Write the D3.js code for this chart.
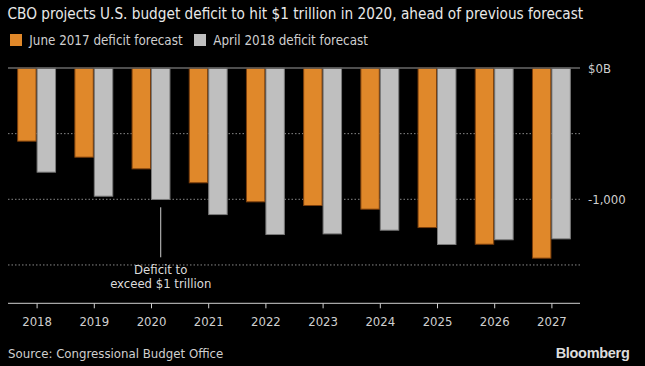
<!DOCTYPE html>
<html><head><meta charset="utf-8">
<script src="https://cdn.jsdelivr.net/npm/d3@7"></script>
<style>body{margin:0;background:#000}svg{display:block}</style>
</head><body><svg id="c" width="645" height="366"></svg>
<script>
const years = ["2018","2019","2020","2021","2022","2023","2024","2025","2026","2027"];
const june2017 = [-561,-683,-772,-878,-1023,-1051,-1079,-1219,-1346,-1452];
const april2018 = [-797,-980,-1005,-1120,-1272,-1267,-1239,-1348,-1312,-1305];
const seriesNames = ["June 2017 deficit forecast","April 2018 deficit forecast"];
const seriesColors = ["#e0882a","#bfbfbf"];
const seriesStrokes = ["#7a3e0c","#7a7a7a"];
const yTicks = [0,-500,-1000,-1500];
const yTickLabels = ["$0B","","-1,000",""];
const title = "CBO projects U.S. budget deficit to hit $1 trillion in 2020, ahead of previous forecast";
const source = "Source: Congressional Budget Office";
const annotation = ["Deficit to","exceed $1 trillion"];
const annotationYear = "2020";

const FONT = "'DejaVu Sans Condensed','DejaVu Sans',sans-serif";
const svg = d3.select("#c");
svg.append("rect").attr("width",645).attr("height",366).attr("fill","#000");

const L = 8, R = 580, Y0 = 68, YB = 303.3;
const x0 = d3.scaleBand().domain(years).range([L,R]).paddingInner(0.32).paddingOuter(0.16);
const x1 = d3.scaleBand().domain(seriesNames).range([0,x0.bandwidth()]);
const y = d3.scaleLinear().domain([0,-1792]).range([Y0,YB]);

// title
svg.append("text").attr("x",7.5).attr("y",18.5).attr("fill","#e8e8e8")
  .style("font-family",FONT).style("font-size","15.2px").text(title);

// legend
const legX = [10,194];
seriesNames.forEach((s,i)=>{
  svg.append("rect").attr("x",legX[i]).attr("y",34).attr("width",12).attr("height",12)
    .attr("fill",seriesColors[i]);
  svg.append("text").attr("x",legX[i]+19.3).attr("y",44.5).attr("fill","#cfcfcf")
    .style("font-family",FONT).style("font-size","13.3px").text(s);
});

// gridlines
yTicks.forEach((t,i)=>{
  const g = svg.append("line").attr("x1",L).attr("x2",R).attr("y1",y(t)).attr("y2",y(t));
  if(t===0) g.attr("stroke","#555").attr("stroke-width",1.5);
  else g.attr("stroke","#888").attr("stroke-width",1).attr("stroke-dasharray","1.5,2");
});

// bars
const data = years.map((yr,i)=>({year:yr, vals:[june2017[i],april2018[i]]}));
const grp = svg.append("g").selectAll("g").data(data).join("g")
  .attr("transform",d=>`translate(${x0(d.year)},0)`);
grp.selectAll("rect").data(d=>d.vals.map((v,i)=>({v,i}))).join("rect")
  .attr("x",d=>x1(seriesNames[d.i])+0.5)
  .attr("y",y(0))
  .attr("width",x1.bandwidth()-1)
  .attr("height",d=>y(d.v)-y(0)-0.5)
  .attr("fill",d=>seriesColors[d.i])
  .attr("stroke",d=>seriesStrokes[d.i]).attr("stroke-width",1);

// redraw zero line on top
svg.append("line").attr("x1",L).attr("x2",R).attr("y1",y(0)).attr("y2",y(0))
  .attr("stroke","#555").attr("stroke-width",1.5);

// y labels
yTicks.forEach((t,i)=>{
  if(!yTickLabels[i]) return;
  svg.append("text").attr("x",588).attr("y",y(t)).attr("dy","0.35em").attr("fill","#cfcfcf")
    .style("font-family",FONT).style("font-size","13px").text(yTickLabels[i]);
});

// x axis
const xa = svg.append("g").attr("transform",`translate(0,${YB})`)
  .call(d3.axisBottom(d3.scalePoint().domain(years).range([x0(years[0])+x0.bandwidth()/2, x0(years[years.length-1])+x0.bandwidth()/2])).tickSize(5).tickSizeOuter(0));
xa.select(".domain").remove();
xa.append("line").attr("x1",L).attr("x2",R).attr("stroke","#d0d0d0").attr("stroke-width",1);
xa.selectAll(".tick line").attr("stroke","#d0d0d0");
xa.selectAll(".tick text").attr("fill","#cfcfcf").attr("y",22.4).attr("dy",0)
  .style("font-family",FONT).style("font-size","13px");

// annotation
const ax = x0(annotationYear)+x1(seriesNames[1])+x1.bandwidth()/2;
svg.append("line").attr("x1",ax).attr("x2",ax).attr("y1",207.3).attr("y2",257.3)
  .attr("stroke","#cfcfcf").attr("stroke-width",1);
annotation.forEach((t,i)=>{
  svg.append("text").attr("x",ax).attr("y",274+i*13.5).attr("text-anchor","middle")
    .attr("fill","#dcdcdc").style("font-family",FONT).style("font-size","13px").text(t);
});

// source & brand
svg.append("text").attr("x",8).attr("y",357.7).attr("fill","#cfcfcf")
  .style("font-family",FONT).style("font-size","13.1px").text(source);
svg.append("text").attr("x",629.5).attr("y",358.3).attr("text-anchor","end").attr("fill","#dcdcdc")
  .style("font-family","'Liberation Sans',Arial,sans-serif").style("font-weight","bold")
  .style("font-size","14.5px").style("letter-spacing","-0.3px").text("Bloomberg");
</script></body></html>
